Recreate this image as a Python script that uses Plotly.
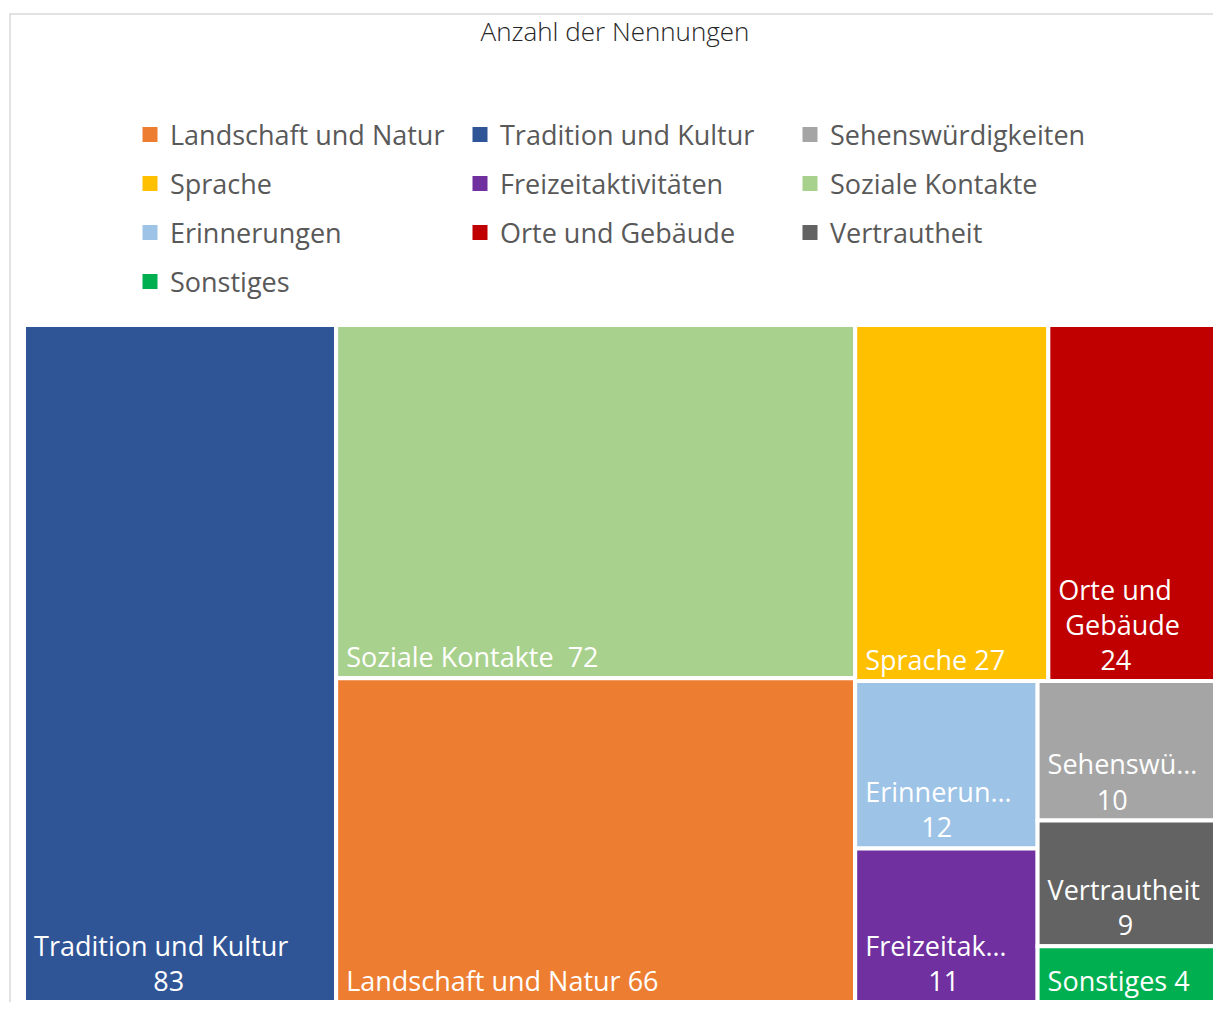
import plotly.graph_objects as go

# leaves of the treemap, in the order Excel draws them
labels = ["Tradition und Kultur", "Soziale Kontakte", "Landschaft und Natur",
          "Sprache", "Orte und Gebäude", "Erinnerungen", "Freizeitaktivitäten",
          "Sehenswürdigkeiten", "Vertrautheit", "Sonstiges"]
values = [83, 72, 66, 27, 24, 12, 11, 10, 9, 4]
# lines of text Excel prints inside each tile (truncated where the tile is narrow)
tile_lines = [["Tradition und Kultur"], ["Soziale Kontakte  "], ["Landschaft und Natur "],
              ["Sprache "], ["Orte und", "Gebäude"], ["Erinnerun…"], ["Freizeitak…"],
              ["Sehenswü…"], ["Vertrautheit"], ["Sonstiges "]]
value_on_new_line = [True, False, False, False, True, True, True, True, True, False]
colors = ["#2F5597", "#A9D18E", "#ED7D31", "#FFC000", "#C00000",
          "#9DC3E6", "#7030A0", "#A5A5A5", "#636363", "#00B050"]
# which hidden block each leaf sits in (mimics Excel's tiling)
leaf_parents = ["all", "mid", "mid", "top", "top", "b1", "b1", "b2", "b2", "b2"]

# hidden grouping blocks
group_ids = ["all", "mid", "right", "top", "bottom", "b1", "b2"]
group_parents = ["", "all", "all", "right", "right", "bottom", "bottom"]

# legend rows (three columns, row by row)
legend_rows = [["Landschaft und Natur", "Tradition und Kultur", "Sehenswürdigkeiten"],
               ["Sprache", "Freizeitaktivitäten", "Soziale Kontakte"],
               ["Erinnerungen", "Orte und Gebäude", "Vertrautheit"],
               ["Sonstiges"]]

NB = "\u00a0"


def tile_text(lines, value, newline):
    # Excel centres the lines of a label block; pad shorter lines with nbsp
    if newline:
        lines = lines + [str(value)]
    else:
        lines = lines[:-1] + [lines[-1] + str(value)]
    longest = max(len(s) for s in lines)
    out = []
    for s in lines:
        pad = int(round((longest - len(s)) * 0.95))
        out.append(NB + NB * pad + s)
    return "<br>".join(out)


# the page body adds an 8px margin, so work in window pixels and shift
OFF = 8
W, H = 1221 - OFF, 1010 - 2 * OFF
m_l, m_t = 24 - OFF, 325 - OFF
m_r = W - (1220 - OFF)
m_b = 0
pw, ph = W - m_l - m_r, H - m_t - m_b


def px_x(wx):
    return (wx - OFF - m_l) / pw


def px_y(wy):
    return (H - m_b - (wy - OFF)) / ph


ids = ["all", "lab0", "mid", "right", "top", "bottom", "b1", "b2"] + ["lab%d" % i for i in range(1, 10)]
parents = [""] + [leaf_parents[0]] + group_parents[1:] + leaf_parents[1:]
tm_values = [0] + [values[0]] + [0] * 6 + values[1:]
texts = [tile_text(tile_lines[i], values[i], value_on_new_line[i]) for i in range(10)]
tm_text = [""] + [texts[0]] + [""] * 6 + texts[1:]
tm_colors = ["white"] + [colors[0]] + ["white"] * 6 + colors[1:]
tm_labels = [""] + [labels[0]] + [""] * 6 + labels[1:]

fig = go.Figure()

fig.add_trace(go.Treemap(
    ids=ids,
    labels=tm_labels,
    parents=parents,
    values=tm_values,
    branchvalues="remainder",
    sort=False,
    text=tm_text,
    textinfo="text",
    textposition="bottom left",
    textfont=dict(family="Open Sans", size=27, color="white"),
    marker=dict(colors=tm_colors, line=dict(color="white", width=4),
                pad=dict(t=0, l=0, r=0, b=0)),
    tiling=dict(packing="slice-dice", pad=0),
    pathbar=dict(visible=False),
    hoverinfo="skip",
    domain=dict(x=[0, 1], y=[0, 1]),
))

# legend entries, one legend per row
row_y = [135, 184, 233, 282]
legend_layout = {}
for r, row in enumerate(legend_rows):
    key = "legend" if r == 0 else "legend%d" % (r + 1)
    for name in row:
        fig.add_trace(go.Scatter(
            x=[None], y=[None], mode="markers", name=name, legend=key,
            marker=dict(symbol="square", size=15, color=colors[labels.index(name)]),
        ))
    legend_layout[key] = dict(
        orientation="h", x=px_x(130), xanchor="left",
        y=px_y(row_y[r]), yanchor="middle",
        entrywidth=285, entrywidthmode="pixels",
        font=dict(family="Open Sans", size=27, color="#595959"),
        bgcolor="rgba(0,0,0,0)",
    )

fig.update_layout(
    width=W, height=H,
    margin=dict(l=m_l, r=m_r, t=m_t, b=m_b),
    paper_bgcolor="white",
    plot_bgcolor="white",
    xaxis=dict(visible=False),
    yaxis=dict(visible=False),
    title=dict(text="Anzahl der Nennungen", x=(615 - OFF) / W, xref="container", xanchor="center",
               y=1 - (32 - OFF) / H, yref="container", yanchor="middle",
               font=dict(family="Open Sans", size=26, color="#262626", weight=300)),
    shapes=[dict(type="rect", xref="paper", yref="paper",
                 x0=px_x(10), x1=px_x(1230),
                 y0=-0.05, y1=px_y(14),
                 line=dict(color="#D9D9D9", width=1.5), layer="below")],
    **legend_layout,
)

fig.write_html("out.html")
